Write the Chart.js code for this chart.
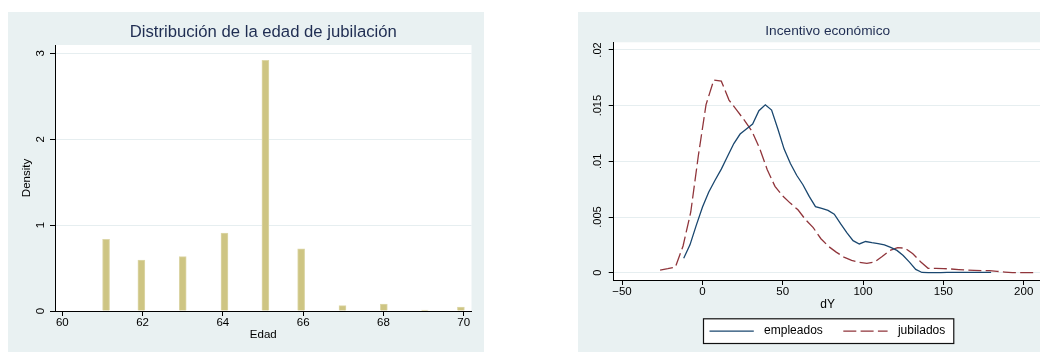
<!DOCTYPE html>
<html>
<head>
<meta charset="utf-8">
<script src="https://cdn.jsdelivr.net/npm/chart.js@4.4.0/dist/chart.umd.min.js"></script>
<style>
  html, body { margin: 0; padding: 0; background: #ffffff; width: 1040px; height: 352px; overflow: hidden; }
  canvas { position: absolute; }
  #edad { left: 8px; top: 12px; width: 476px; height: 340px; }
  #incentivo { left: 578px; top: 12px; width: 476px; height: 340px; }
</style>
</head>
<body>
<canvas id="edad" width="476" height="340"></canvas>
<canvas id="incentivo" width="476" height="340"></canvas>
<script>
// ---- Histograma de la edad de jubilación ----
const edadBinCenters = [61.09, 61.97, 63.0, 64.04, 65.06, 65.95, 66.98, 68.01, 69.03, 69.93];
const edadDensity    = [0.834, 0.593, 0.634, 0.907, 2.919, 0.725, 0.062, 0.081, 0.012, 0.045];
const edadTicksX = [60, 62, 64, 66, 68, 70];
const edadTicksY = [0, 1, 2, 3];

// ---- Densidad kernel del incentivo económico (dY) ----
const dYEmpleadosX = [-11.6, -7.7, -3.8, 0.1, 4.0, 7.9, 11.8, 15.7, 19.6, 23.5,
  27.4, 31.3, 35.2, 39.2, 43.1, 47.0, 50.9, 54.8, 58.7, 62.6,
  66.5, 70.4, 74.3, 78.2, 82.1, 86.0, 89.9, 93.8, 97.7, 101.6,
  105.5, 109.4, 113.3, 117.2, 121.1, 125.0, 128.9, 132.8, 136.7, 140.6,
  144.5, 148.4, 152.3, 156.2, 160.1, 164.0, 167.9, 171.8, 175.7, 179.7];
const dYEmpleadosY = [0.00129, 0.00250, 0.00425, 0.00590, 0.00725, 0.00830, 0.00930, 0.01045, 0.01160, 0.01245,
  0.01290, 0.01335, 0.01455, 0.01508, 0.01460, 0.01290, 0.01110, 0.00980, 0.00875, 0.00790,
  0.00685, 0.00593, 0.00578, 0.00560, 0.00525, 0.00440, 0.00360, 0.00288, 0.00258, 0.00280,
  0.00270, 0.00262, 0.00250, 0.00228, 0.00200, 0.00155, 0.00095, 0.00030, 0.00002, 0.00001,
  0.00001, 0.00001, 0.00002, 0.00002, 0.00002, 0.00003, 0.00003, 0.00003, 0.00002, 0.00002];

const dYJubiladosX = [-26.3, -21.5, -16.8, -12.0, -7.2, -2.5, 2.3, 7.1, 11.8, 16.6,
  21.4, 26.1, 30.9, 35.7, 40.4, 45.2, 50.0, 54.7, 59.5, 64.3,
  69.0, 73.8, 78.6, 83.3, 88.1, 92.9, 97.6, 102.4, 107.2, 111.9,
  116.7, 121.5, 126.2, 131.0, 135.8, 140.5, 145.3, 150.1, 154.8, 159.6,
  164.4, 169.1, 173.9, 178.7, 183.4, 188.2, 193.0, 197.7, 202.5, 207.3];
const dYJubiladosY = [0.00024, 0.00036, 0.00050, 0.00240, 0.00545, 0.01050, 0.01510, 0.01730, 0.01720, 0.01550,
  0.01460, 0.01370, 0.01270, 0.01115, 0.00925, 0.00775, 0.00690, 0.00625, 0.00565, 0.00475,
  0.00405, 0.00305, 0.00235, 0.00185, 0.00140, 0.00110, 0.00093, 0.00084, 0.00095, 0.00145,
  0.00200, 0.00225, 0.00220, 0.00170, 0.00099, 0.00039, 0.00039, 0.00037, 0.00033, 0.00028,
  0.00024, 0.00021, 0.00019, 0.00018, 0.00012, 0.00006, 0.00001, 0.00000, 0.00000, 0.00000];

const dYTicksX = [-50, 0, 50, 100, 150, 200];
const dYTicksY = [0, 0.005, 0.01, 0.015, 0.02];

// ---- Estilo ----
const FONT = "'Liberation Sans', Arial, Helvetica, sans-serif";
const PANEL_BG = '#E9F1F2';
const GRID = '#E6EEF0';
const TITLE = '#1F2D52';
const INK = '#000000';
const BAR_FILL = '#CEC583';
const BAR_EDGE = '#DDD7A9';
const NAVY = '#1A476F';
const MAROON = '#90353B';

// Fondo del panel y región del gráfico en blanco
const panelBg = {
  id: 'panelBg',
  beforeDraw(chart) {
    const { ctx, chartArea: a, width, height } = chart;
    ctx.save();
    ctx.fillStyle = PANEL_BG;
    ctx.fillRect(0, 0, width, height);
    ctx.fillStyle = '#ffffff';
    ctx.fillRect(a.left, a.top, a.right - a.left, a.bottom - a.top);
    ctx.restore();
  }
};

// Leyenda enmarcada bajo el eje horizontal
const framedLegend = {
  id: 'framedLegend',
  afterDraw(chart, args, opts) {
    const { ctx, chartArea: a } = chart;
    const ds = chart.data.datasets;
    ctx.save();
    ctx.font = `12px ${FONT}`;
    const lineLen = 44.3, padL = 6, padR = 8.5, gapText = 10.3, gapItem = 20.5;
    const widths = ds.map(d => ctx.measureText(d.label).width);
    let total = padL + padR + gapItem * (ds.length - 1);
    widths.forEach(w => { total += lineLen + gapText + w; });
    const cx = (a.left + a.right) / 2;
    const x0 = Math.round(cx - total / 2) + 0.5;
    const y0 = opts.top + 0.5;
    const h = opts.height;
    ctx.fillStyle = '#ffffff';
    ctx.fillRect(x0, y0, total, h);
    ctx.strokeStyle = '#111111';
    ctx.lineWidth = 1.2;
    ctx.strokeRect(x0, y0, total, h);
    const yMid = y0 + h / 2;
    let x = x0 + padL;
    ds.forEach((d, i) => {
      ctx.beginPath();
      ctx.setLineDash(d.borderDash || []);
      ctx.strokeStyle = d.borderColor;
      ctx.lineWidth = d.borderWidth;
      ctx.moveTo(x, yMid);
      ctx.lineTo(x + lineLen, yMid);
      ctx.stroke();
      ctx.setLineDash([]);
      x += lineLen + gapText;
      ctx.fillStyle = INK;
      ctx.textAlign = 'left';
      ctx.textBaseline = 'middle';
      ctx.fillText(d.label, x, yMid);
      x += widths[i] + gapItem;
    });
    ctx.restore();
  }
};

const fixedTicks = list => scale => { scale.ticks = list.map(v => ({ value: v })); };

// ---- Panel izquierdo: histograma ----
new Chart(document.getElementById('edad'), {
  type: 'bar',
  data: {
    datasets: [{
      label: 'Density',
      data: edadBinCenters.map((x, i) => ({ x: x, y: edadDensity[i] })),
      backgroundColor: BAR_FILL,
      borderColor: BAR_EDGE,
      borderWidth: 1,
      barThickness: 7
    }]
  },
  options: {
    responsive: false,
    animation: false,
    devicePixelRatio: 1,
    layout: { padding: { left: 0, right: 12.5, top: 0, bottom: 0 } },
    plugins: {
      legend: { display: false },
      tooltip: { enabled: false },
      title: {
        display: true,
        text: 'Distribución de la edad de jubilación',
        color: TITLE,
        font: { family: FONT, size: 16.7, weight: 'normal' },
        padding: { top: 10, bottom: 2.96 },
        fullSize: false
      }
    },
    scales: {
      x: {
        type: 'linear',
        min: 59.818, max: 70.194,
        offset: false,
        afterBuildTicks: fixedTicks(edadTicksX),
        afterFit: s => { s.height = 41; },
        grid: { offset: false, drawOnChartArea: false, drawTicks: true, tickLength: 5, tickColor: INK, tickWidth: 1 },
        border: { display: true, color: INK, width: 1 },
        ticks: { padding: 0, color: INK, font: { family: FONT, size: 11.5 }, maxRotation: 0, autoSkip: false, callback: v => String(v) },
        title: { display: true, text: 'Edad', color: INK, font: { family: FONT, size: 11.5 }, padding: { top: 0, bottom: 10.1 } }
      },
      y: {
        type: 'linear',
        min: 0, max: 3.097,
        afterBuildTicks: fixedTicks(edadTicksY),
        afterFit: s => { s.width = 47; },
        grid: { color: GRID, lineWidth: 1, drawTicks: true, tickLength: 5, tickColor: INK, tickWidth: 1 },
        border: { display: true, color: INK, width: 1 },
        ticks: { minRotation: 90, maxRotation: 90, crossAlign: 'center', padding: 6.3, color: INK, font: { family: FONT, size: 11.5 }, autoSkip: false, callback: v => String(v) },
        title: { display: true, text: 'Density', color: INK, font: { family: FONT, size: 11.5 }, padding: { top: 12.1, bottom: 0 } }
      }
    }
  },
  plugins: [panelBg]
});

// ---- Panel derecho: densidades de dY ----
const fmtDecimal = v => (v === 0 ? '0' : String(v).replace(/^0/, ''));

new Chart(document.getElementById('incentivo'), {
  type: 'line',
  data: {
    datasets: [
      {
        label: 'empleados',
        data: dYEmpleadosX.map((x, i) => ({ x: x, y: dYEmpleadosY[i] })),
        borderColor: NAVY,
        borderWidth: 1.3,
        pointRadius: 0,
        tension: 0,
        fill: false
      },
      {
        label: 'jubilados',
        data: dYJubiladosX.map((x, i) => ({ x: x, y: dYJubiladosY[i] })),
        borderColor: MAROON,
        borderWidth: 1.3,
        borderDash: [13, 4.3],
        pointRadius: 0,
        tension: 0,
        fill: false
      }
    ]
  },
  options: {
    responsive: false,
    animation: false,
    devicePixelRatio: 1,
    layout: { padding: { left: 0, right: 12.3, top: 0, bottom: 0 } },
    plugins: {
      legend: { display: false },
      tooltip: { enabled: false },
      title: {
        display: true,
        text: 'Incentivo económico',
        color: TITLE,
        font: { family: FONT, size: 13.7, weight: 'normal' },
        padding: { top: 10.78, bottom: 3.08 },
        fullSize: false
      },
      framedLegend: { top: 306.3, height: 24.7 }
    },
    scales: {
      x: {
        type: 'linear',
        min: -55.17, max: 211.2,
        afterBuildTicks: fixedTicks(dYTicksX),
        afterFit: s => { s.height = 72; },
        grid: { drawOnChartArea: false, drawTicks: true, tickLength: 5, tickColor: INK, tickWidth: 1 },
        border: { display: true, color: INK, width: 1 },
        ticks: { padding: 0, color: INK, font: { family: FONT, size: 11.5 }, maxRotation: 0, autoSkip: false, callback: v => (v < 0 ? '\u2212' + Math.abs(v) : String(v)) },
        title: { display: true, text: 'dY', color: INK, font: { family: FONT, size: 12 }, padding: { top: 0, bottom: 40.5 } }
      },
      y: {
        type: 'linear',
        min: -0.000656, max: 0.02069,
        afterBuildTicks: fixedTicks(dYTicksY),
        afterFit: s => { s.width = 35.7; },
        grid: { color: GRID, lineWidth: 1, drawTicks: true, tickLength: 5, tickColor: INK, tickWidth: 1 },
        border: { display: true, color: INK, width: 1 },
        ticks: { minRotation: 90, maxRotation: 90, crossAlign: 'center', padding: 0, color: INK, font: { family: FONT, size: 11 }, autoSkip: false, callback: fmtDecimal }
      }
    }
  },
  plugins: [panelBg, framedLegend]
});
</script>
</body>
</html>
